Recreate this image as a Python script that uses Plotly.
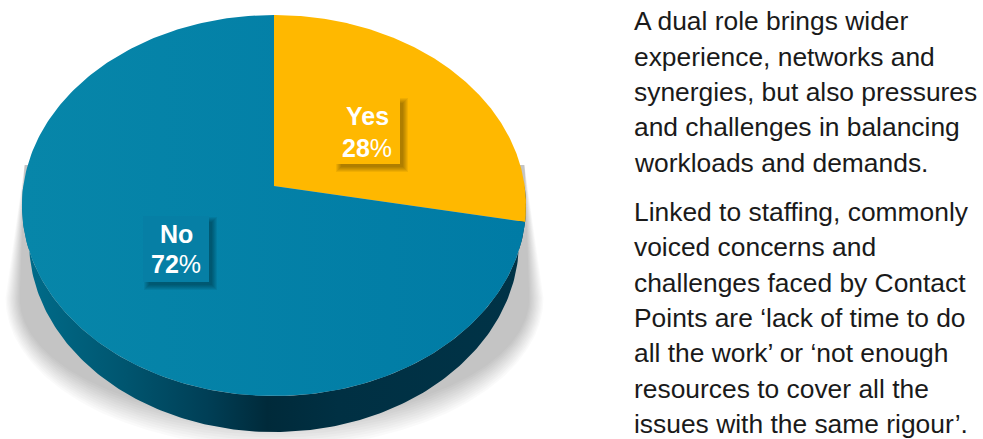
import numpy as np
import plotly.graph_objects as go

# Survey split shown on the pie
categories = ["Yes", "No"]
shares = [28, 72]
share_labels = ["28%", "72%"]

# Commentary column, one entry per rendered line
para_one = [
    "A dual role brings wider",
    "experience, networks and",
    "synergies, but also pressures",
    "and challenges in balancing",
    "workloads and demands.",
]
para_two = [
    "Linked to staffing, commonly",
    "voiced concerns and",
    "challenges faced by Contact",
    "Points are ‘lack of time to do",
    "all the work’ or ‘not enough",
    "resources to cover all the",
    "issues with the same rigour’.",
]

W, H = 983, 439
APEX_X, APEX_Y = 274.0, 186.0
RX, RY = 250.7, 188.5
PERSPECTIVE = 0.1024
DEPTH = 36.0
FOOT_SCALE = 0.972

YES_COLOR = "#FFB800"
TEXT_COLOR = "#1a1a1a"
LABEL_FONT = "Liberation Sans"
BODY_FONT = "Liberation Sans"


def rim(theta):
    """Project a clockwise-from-top angle (radians) onto the tilted disc."""
    u, v = np.sin(theta), np.cos(theta)
    denom = 1 + PERSPECTIVE * v
    return APEX_X + RX * u / denom, APEX_Y - RY * v / denom


def wedge(start_share, end_share):
    t = np.linspace(start_share, end_share, 240) / 100 * 2 * np.pi
    x, y = rim(t)
    return [APEX_X, *x, APEX_X], [APEX_Y, *y, APEX_Y]


fig = go.Figure()

# Cast shadow: straight flanks running out from behind the disc into a
# rounded foot; stacked faint layers soften the foot and leave the flanks crisp
SHADOW_CX, SHADOW_CY = 274.5, 298.0
SHADOW_TOP_Y = 165.0
SHADOW_TOP_HALF = 250.0
for i in range(12):
    rx = 269 - 1.3 * i
    ry = 150 - 2.6 * i
    t = np.linspace(0, np.pi, 180)
    sx = SHADOW_CX + rx * np.cos(t)
    sy = SHADOW_CY + ry * np.sin(t)
    fig.add_trace(go.Scatter(
        x=np.r_[SHADOW_CX - SHADOW_TOP_HALF, SHADOW_CX + SHADOW_TOP_HALF, sx],
        y=np.r_[SHADOW_TOP_Y, SHADOW_TOP_Y, sy],
        mode="lines", fill="toself", line=dict(width=0),
        fillcolor="rgba(0,0,0,0.0185)", hoverinfo="skip", showlegend=False,
    ))

# Side wall of the disc: top rim, then the narrower foot rim back again
t_side = np.radians(np.linspace(90, 270, 200))
tx, ty = rim(t_side)
fx = 275 + (tx - 275) * FOOT_SCALE
fy = ty + DEPTH
fig.add_trace(go.Scatter(
    x=np.r_[tx, fx[::-1]], y=np.r_[ty, fy[::-1]], mode="lines", fill="toself",
    line=dict(width=0), hoverinfo="skip", showlegend=False,
    fillcolor="#003347",
    fillgradient=dict(
        type="horizontal", start=25, stop=530,
        colorscale=[
            [0.0, "#006C8A"], [0.2, "#00556F"], [0.36, "#003F56"],
            [0.48, "#002A3A"], [0.62, "#003043"], [1.0, "#003347"],
        ],
    ),
))

# Top face wedges, sized from the shares
boundary = 0
for name, share in zip(categories, shares):
    wx, wy = wedge(boundary, boundary + share)
    boundary += share
    if name == "No":
        fig.add_trace(go.Scatter(
            x=wx, y=wy, mode="lines", fill="toself", name=name, line=dict(width=0),
            fillcolor="#0480A6", hoverinfo="skip", showlegend=False,
            fillgradient=dict(
                type="horizontal", start=22, stop=527,
                colorscale=[[0, "#0786A9"], [1, "#007BA5"]],
            ),
        ))
    else:
        fig.add_trace(go.Scatter(
            x=wx, y=wy, mode="lines", fill="toself", name=name, line=dict(width=0),
            fillcolor=YES_COLOR, hoverinfo="skip", showlegend=False,
        ))

shapes = []
annotations = []

# Label plates with a drop shadow towards the lower right
plates = {
    "Yes": dict(x0=335, x1=400, y0=97, y1=164, fill=YES_COLOR, y_text=(116, 148), cx=367),
    "No": dict(x0=143, x1=209, y0=216, y1=282, fill="#067FA5", y_text=(234, 264), cx=176),
}
for name, share_text in zip(categories, share_labels):
    p = plates[name]
    for k in range(6, 0, -1):
        shapes.append(dict(
            type="rect", x0=p["x0"] + 7 - k, x1=p["x1"] + 2 + k,
            y0=p["y0"] + 7 - k, y1=p["y1"] + 2 + k,
            line=dict(width=0), fillcolor="rgba(0,0,0,0.06)", layer="above",
        ))
    shapes.append(dict(
        type="rect", x0=p["x0"], x1=p["x1"], y0=p["y0"], y1=p["y1"],
        line=dict(width=0), fillcolor=p["fill"], layer="above",
    ))
    digits = share_text.rstrip("%")
    for text, yt in zip((f"<b>{name}</b>", f"<b>{digits}</b>%"), p["y_text"]):
        annotations.append(dict(
            x=p["cx"], y=yt, text=text, showarrow=False, xanchor="center", yanchor="middle",
            font=dict(family=LABEL_FONT, size=25, color="white"),
        ))

# Commentary text, placed line by line
para_one_y = [21, 57, 92, 127, 163]
para_two_y = [212, 247, 283, 318, 353, 389, 424]
for line, yt in zip(para_one + para_two, para_one_y + para_two_y):
    annotations.append(dict(
        x=632, y=yt, text=line, showarrow=False, xanchor="left", yanchor="middle",
        font=dict(family=BODY_FONT, size=26.4, color=TEXT_COLOR),
    ))

fig.update_layout(
    width=W, height=H, margin=dict(l=0, r=0, t=0, b=0),
    paper_bgcolor="white", plot_bgcolor="white", showlegend=False,
    xaxis=dict(range=[0, W], visible=False, fixedrange=True),
    yaxis=dict(range=[H, 0], visible=False, fixedrange=True),
    shapes=shapes, annotations=annotations,
)
fig.write_html("out.html", config=dict(displayModeBar=False))
